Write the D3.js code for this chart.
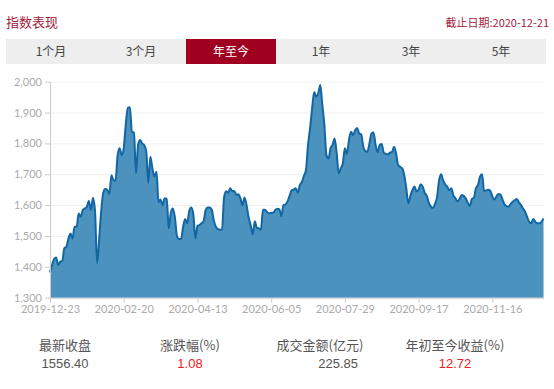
<!DOCTYPE html>
<html>
<head>
<meta charset="utf-8">
<script src="https://cdn.jsdelivr.net/npm/d3@7"></script>
<style>
  body { margin: 0; background: #fff; }
  svg { display: block; font-family: "Noto Sans CJK SC", "Noto Sans", sans-serif; }
  .axis text { font-family: Lato, "Noto Sans", sans-serif; font-size: 11px; fill: #aaa; }
  .axis path, .axis line { stroke: #ccc; }
</style>
</head>
<body>
<div id="chart"></div>
<script>
// Onglets de période
const tabs = ["1个月", "3个月", "年至今", "1年", "3年", "5年"];
const selectedTab = 2;

// Graduations de l'axe des x (un repère tous les 36 jours de bourse)
const tickIndex = [0, 36, 72, 108, 144, 180, 216];
const tickLabels = ["2019-12-23", "2020-02-20", "2020-04-13", "2020-06-05", "2020-07-29", "2020-09-17", "2020-11-16"];
const yTicks = [1300, 1400, 1500, 1600, 1700, 1800, 1900, 2000];

// Clôture quotidienne de l'indice (jours de bourse)
const closes = [
  1382, 1406, 1425, 1430, 1406, 1417, 1419, 1460, 1465, 1492,
  1508, 1492, 1530, 1530, 1573, 1562, 1584, 1589, 1595, 1613,
  1584, 1624, 1580, 1411, 1490, 1580, 1640, 1652, 1649, 1636,
  1697, 1681, 1679, 1760, 1784, 1762, 1785, 1860, 1915, 1917,
  1838, 1835, 1703, 1795, 1811, 1800, 1795, 1775, 1672, 1757,
  1720, 1692, 1708, 1610, 1618, 1600, 1622, 1620, 1525, 1575,
  1589, 1560, 1500, 1490, 1490, 1530, 1555, 1541, 1581, 1592,
  1570, 1492, 1533, 1535, 1541, 1548, 1584, 1592, 1592, 1585,
  1550, 1530, 1522, 1520, 1520, 1625, 1645, 1640, 1655, 1645,
  1646, 1633, 1635, 1622, 1600, 1625, 1600, 1560, 1535, 1505,
  1548, 1527, 1525, 1520, 1585, 1585, 1578, 1573, 1575, 1575,
  1584, 1588, 1587, 1565, 1600, 1602, 1612, 1630, 1648, 1650,
  1655, 1640, 1665, 1675, 1695, 1714, 1795, 1849, 1913, 1967,
  1951, 1962, 1989, 1924, 1859, 1762, 1751, 1784, 1795, 1816,
  1768, 1703, 1719, 1735, 1784, 1765, 1811, 1838, 1827, 1843,
  1850, 1832, 1829, 1789, 1775, 1773, 1800, 1832, 1835, 1795,
  1771, 1795, 1798, 1770, 1766, 1764, 1770, 1772, 1789, 1768,
  1730, 1724, 1719, 1697, 1654, 1606, 1630, 1649, 1660, 1645,
  1650, 1668, 1660, 1640, 1630, 1608, 1595, 1590, 1604, 1625,
  1680, 1700, 1680, 1667, 1660, 1648, 1655, 1632, 1622, 1612,
  1620, 1633, 1630, 1622, 1608, 1597, 1620, 1624, 1655, 1665,
  1692, 1700, 1645, 1648, 1650, 1647, 1628, 1618, 1628, 1636,
  1634, 1618, 1602, 1597, 1595, 1604, 1611, 1616, 1620, 1609,
  1600, 1589, 1579, 1562, 1546, 1541, 1555, 1546, 1541, 1541,
  1546, 1556.4
];

// Chiffres clés sous le graphique
const statLabels = ["最新收盘", "涨跌幅(%)", "成交金额(亿元)", "年初至今收益(%)"];
const statValues = ["1556.40", "1.08", "225.85", "12.72"];

function drawChart() {
  const W = 554, H = 389;
  const plot = { left: 50, right: 543.5, top: 81.7, bottom: 297.7 };

  const svg = d3.select("#chart")
    .append("svg")
    .attr("width", W)
    .attr("height", H);

  // En-tête
  svg.append("text")
    .attr("x", 6)
    .attr("y", 27)
    .style("font-size", "13px")
    .style("fill", "#a3203c")
    .text("指数表现");

  svg.append("text")
    .attr("x", 549)
    .attr("y", 27)
    .attr("text-anchor", "end")
    .style("font-size", "11px")
    .style("fill", "#a3203c")
    .text("截止日期:2020-12-21");

  // Barre d'onglets
  const tabW = 90;
  svg.append("rect")
    .attr("x", 6).attr("y", 39)
    .attr("width", tabW * tabs.length).attr("height", 25)
    .attr("fill", "#eeeeee");

  const tab = svg.selectAll(".tab")
    .data(tabs)
    .enter()
    .append("g")
    .attr("class", "tab")
    .attr("transform", (d, i) => `translate(${6 + i * tabW},39)`);

  tab.filter((d, i) => i === selectedTab)
    .append("rect")
    .attr("width", tabW).attr("height", 25)
    .attr("fill", "#a00020");

  tab.append("text")
    .attr("x", tabW / 2)
    .attr("y", 17)
    .attr("text-anchor", "middle")
    .style("font-size", "12px")
    .style("fill", (d, i) => i === selectedTab ? "#fff" : "#444")
    .text(d => d);

  // Échelles
  const x = d3.scaleLinear()
    .domain([0, closes.length - 1])
    .range([plot.left, plot.right]);

  const y = d3.scaleLinear()
    .domain([1300, 2000])
    .range([plot.bottom, plot.top]);

  // Grille
  svg.append("g")
    .attr("transform", `translate(${plot.left},0)`)
    .call(d3.axisLeft(y).tickValues(yTicks).tickSize(-(plot.right - plot.left)).tickFormat(""))
    .call(g => g.select(".domain").remove())
    .selectAll("line")
    .attr("stroke", "#efefef");

  // Aire + ligne
  const area = d3.area()
    .x((d, i) => x(i))
    .y0(y(1300))
    .y1(d => y(d))
    .curve(d3.curveMonotoneX);

  const line = d3.line()
    .x((d, i) => x(i))
    .y(d => y(d))
    .curve(d3.curveMonotoneX);

  svg.append("path")
    .datum(closes)
    .attr("d", area)
    .attr("fill", "#4b93be");

  svg.append("path")
    .datum(closes)
    .attr("d", line)
    .attr("fill", "none")
    .attr("stroke", "#1266a3")
    .attr("stroke-width", 2);

  // Axes
  svg.append("g")
    .attr("class", "axis")
    .attr("transform", `translate(${plot.left},0)`)
    .call(d3.axisLeft(y).tickValues(yTicks).tickSize(5).tickPadding(3).tickSizeOuter(0).tickFormat(d3.format(",")));

  svg.append("g")
    .attr("class", "axis")
    .attr("transform", `translate(0,${plot.bottom})`)
    .call(d3.axisBottom(x).tickValues(tickIndex).tickSize(5).tickPadding(3).tickSizeOuter(0)
      .tickFormat((d, i) => tickLabels[i]));

  // Statistiques
  const statX = [65, 190, 320, 455];
  statLabels.forEach((lab, i) => {
    svg.append("text")
      .attr("x", statX[i])
      .attr("y", 350)
      .attr("text-anchor", "middle")
      .style("font-size", "13px")
      .style("fill", "#555")
      .text(lab);
  });

  statValues.forEach((v, i) => {
    svg.append("text")
      .attr("x", i === 2 ? 358 : statX[i])
      .attr("y", 368)
      .attr("text-anchor", i === 2 ? "end" : "middle")
      .style("font-size", "13px")
      .style("font-family", "Arial, 'Liberation Sans', sans-serif")
      .style("fill", (i === 1 || i === 3) ? "#f02020" : "#555")
      .text(v);
  });
}

drawChart();
</script>
</body>
</html>
